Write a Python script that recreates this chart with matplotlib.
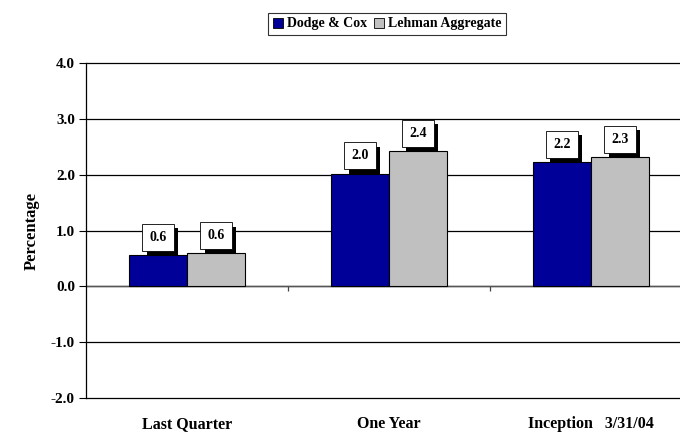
import matplotlib
matplotlib.use("Agg")
import matplotlib.pyplot as plt
import matplotlib.patheffects as pe
from matplotlib.patches import Patch
from matplotlib.transforms import blended_transform_factory
import numpy as np

categories = ["Last Quarter", "One Year", "Inception   3/31/04"]
series_names = ["Dodge & Cox", "Lehman Aggregate"]
dodge_cox = [0.56, 2.02, 2.23]
lehman = [0.59, 2.42, 2.32]
y_ticks = [-2.0, -1.0, 0.0, 1.0, 2.0, 3.0, 4.0]

colors = ["#000099", "#C0C0C0"]

plt.rcParams["font.family"] = ["Liberation Serif", "DejaVu Serif"]
plt.rcParams["font.weight"] = "bold"

fig = plt.figure(figsize=(6.8, 4.33), dpi=100)
ax = fig.add_axes([86 / 680, 1 - 398 / 433, 606 / 680, 335 / 433])

x = np.arange(len(categories))
w = 0.287
series = [dodge_cox, lehman]
offsets = [-w / 2, w / 2]

for vals, off, col in zip(series, offsets, colors):
    bars = ax.bar(x + off, vals, width=w, color=col, edgecolor="black",
                  linewidth=0.8, zorder=3)
    for b, v in zip(bars, vals):
        t = ax.annotate(f"{v:.1f}", (b.get_x() + b.get_width() / 2, v),
                        xytext=(0, 8), textcoords="offset points",
                        ha="center", va="bottom", fontsize=10,
                        fontweight="bold", zorder=5,
                        bbox=dict(boxstyle="square,pad=0.5", fc="white",
                                  ec="black", lw=0.6))
        t.get_bbox_patch().set_path_effects([
            pe.SimplePatchShadow(offset=(3, -3), shadow_rgbFace="black",
                                 alpha=1.0),
            pe.Normal()])

ax.set_ylim(-2.0, 4.0)
ax.set_xlim(-0.5, len(categories) - 0.5)
ax.set_yticks(y_ticks)
ax.set_yticklabels([f"{v:.1f}" for v in y_ticks], fontsize=11,
                   fontweight="bold")
ax.yaxis.grid(True, color="black", linewidth=0.9, zorder=1)
ax.set_axisbelow(True)
for gl in ax.get_ygridlines():
    gl.set_clip_on(False)
ax.tick_params(axis="y", direction="out", length=5, width=0.8, pad=3)

ax.set_xticks(x)
ax.set_xticklabels(categories, fontsize=11.5, fontweight="bold")
ax.tick_params(axis="x", length=0, pad=13)

for s in ["top", "right", "bottom"]:
    ax.spines[s].set_visible(False)
ax.spines["left"].set_linewidth(0.9)

# category boundary ticks hanging below the zero line
trans = blended_transform_factory(ax.transData, ax.transData)
bounds = np.arange(len(categories) - 1) + 0.5
ax.vlines(bounds, -0.09, 0.0, colors="#444444", linewidth=0.9,
          transform=trans, zorder=2)
ax.axhline(0.0, color="#555555", linewidth=1.0, zorder=2)

ax.set_ylabel("Percentage", fontsize=12, fontweight="bold", labelpad=8)

handles = [Patch(facecolor=c, edgecolor="black", linewidth=0.6) for c in colors]
leg = fig.legend(handles, series_names, loc="center",
                 bbox_to_anchor=(387 / 680, 1 - 24 / 433), ncol=2,
                 frameon=True, fancybox=False, edgecolor="black",
                 fontsize=10, handlelength=0.7, handleheight=0.7,
                 handletextpad=0.3, columnspacing=0.5, borderpad=0.35)
leg.get_frame().set_linewidth(0.8)
for txt in leg.get_texts():
    txt.set_fontweight("bold")

fig.savefig("out.png", dpi=100)
